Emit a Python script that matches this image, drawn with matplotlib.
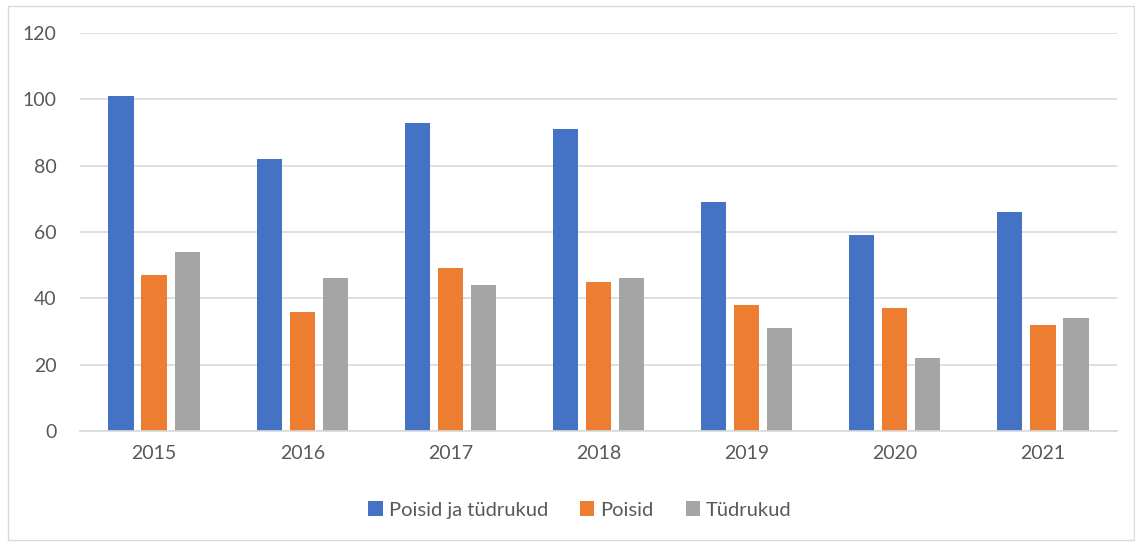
import numpy as np
import matplotlib
matplotlib.use('Agg')
import matplotlib.pyplot as plt
from matplotlib.patches import Rectangle

plt.rcParams['font.family'] = ['Lato', 'DejaVu Sans']

# data
years = ['2015', '2016', '2017', '2018', '2019', '2020', '2021']
both = [101, 82, 93, 91, 69, 59, 66]
boys = [47, 36, 49, 45, 38, 37, 32]
girls = [54, 46, 44, 46, 31, 22, 34]
series_names = ['Poisid ja tüdrukud', 'Poisid', 'Tüdrukud']
colors = ['#4472C4', '#ED7D31', '#A5A5A5']

fig = plt.figure(figsize=(11.35, 5.42), dpi=100)
ax = fig.add_axes([80 / 1135, 1 - 431 / 542, (1117 - 80) / 1135, (431 - 33) / 542])

x = np.arange(len(years))
width = 0.17
step = 0.223
for i, (vals, name, col) in enumerate(zip([both, boys, girls], series_names, colors)):
    ax.bar(x + (i - 1) * step, vals, width, color=col, label=name, zorder=3)

ax.set_xlim(-0.5, len(years) - 0.5)
ax.set_ylim(0, 120)
ax.set_yticks(range(0, 121, 20))
ax.set_xticks(x)
ax.set_xticklabels(years)
ax.yaxis.grid(color='#d9d9d9', linewidth=1.2, zorder=0)
for s in ['top', 'right', 'left']:
    ax.spines[s].set_visible(False)
ax.spines['bottom'].set_color('#d9d9d9')
ax.spines['bottom'].set_linewidth(1.2)
ax.spines['bottom'].set_zorder(4)
ax.tick_params(axis='both', length=0, labelsize=14, colors='#595959')
ax.tick_params(axis='x', pad=10)
ax.tick_params(axis='y', pad=17)

leg = fig.legend(loc='center', bbox_to_anchor=(0.511, 1 - 510 / 542), ncol=3, frameon=False,
                 fontsize=14.5, handlelength=0.7, handleheight=0.7, handletextpad=0.3,
                 columnspacing=1.6)
for t in leg.get_texts():
    t.set_color('#595959')

# light outer border like the chart area frame
fig.add_artist(Rectangle((8 / 1135, 2 / 542), 1 - 9 / 1135, 1 - 8 / 542, transform=fig.transFigure,
                         fill=False, edgecolor='#d9d9d9', linewidth=1))

fig.savefig('out.png', dpi=100)
